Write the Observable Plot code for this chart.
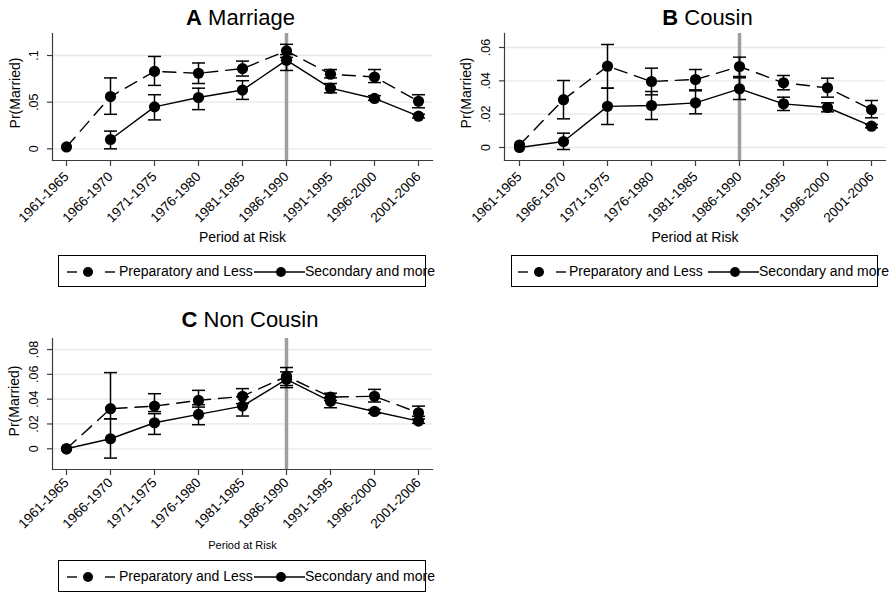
<!DOCTYPE html>
<html><head><meta charset="utf-8">
<script src="https://cdn.jsdelivr.net/npm/d3@7"></script>
<script src="https://cdn.jsdelivr.net/npm/@observablehq/plot@0.6"></script>
<style>
body{margin:0;background:#fff;font-family:"Liberation Sans",Arial,Helvetica,sans-serif;}
#root{position:relative;width:893px;height:594px;overflow:hidden;background:#fff;}
.panel{position:absolute;}
.panel svg{overflow:visible;font-family:"Liberation Sans",Arial,Helvetica,sans-serif;}
.title{position:absolute;font-size:22px;line-height:22px;white-space:nowrap;transform:translateX(-50%);color:#000}
.title b{font-weight:bold}
.legend{position:absolute;border:1px solid #000;box-sizing:border-box;height:32px;background:#fff}
.legend .t{position:absolute;top:0;line-height:30px;font-size:14px;white-space:nowrap;color:#000}
.legend svg{position:absolute;top:0;overflow:visible}
</style></head>
<body><div id="root"></div>
<script>
// ---------- data ----------
const periods = ["1961-1965","1966-1970","1971-1975","1976-1980","1981-1985","1986-1990","1991-1995","1996-2000","2001-2006"];
const seriesNames = ["Preparatory and Less", "Secondary and more"];
const cutoffPeriod = "1986-1990";

// A Marriage
const prepA    = [0.002, 0.056, 0.083, 0.081, 0.086, 0.105, 0.080, 0.077, 0.051];
const prepALo  = [null, 0.037, 0.068, 0.070, 0.078, 0.098, 0.076, 0.071, 0.044];
const prepAHi  = [null, 0.076, 0.099, 0.092, 0.094, 0.112, 0.085, 0.085, 0.058];
const secA     = [null, 0.010, 0.045, 0.055, 0.063, 0.095, 0.065, 0.054, 0.035];
const secALo   = [null, 0.000, 0.031, 0.042, 0.053, 0.084, 0.060, 0.052, 0.033];
const secAHi   = [null, 0.019, 0.058, 0.065, 0.073, 0.101, 0.070, 0.057, 0.037];

// B Cousin
const prepB    = [0.0015, 0.0287, 0.0488, 0.0396, 0.0408, 0.0486, 0.0388, 0.0358, 0.0228];
const prepBLo  = [null, 0.0172, 0.0356, 0.0316, 0.0346, 0.0426, 0.0346, 0.0302, 0.0178];
const prepBHi  = [null, 0.0402, 0.0618, 0.0476, 0.0468, 0.0542, 0.0432, 0.0416, 0.0282];
const secB     = [0.0, 0.0036, 0.0247, 0.0252, 0.0268, 0.0352, 0.0262, 0.0240, 0.0128];
const secBLo   = [null, -0.0012, 0.0138, 0.0168, 0.0202, 0.0288, 0.0222, 0.0214, 0.0118];
const secBHi   = [null, 0.0086, 0.0356, 0.0336, 0.0340, 0.0418, 0.0302, 0.0268, 0.0138];

// C Non Cousin
const prepC    = [0.0, 0.0323, 0.0344, 0.0390, 0.0423, 0.0584, 0.0417, 0.0423, 0.0290];
const prepCLo  = [null, 0.0242, 0.0300, 0.0336, 0.0364, 0.0510, 0.0390, 0.0377, 0.0262];
const prepCHi  = [null, 0.0614, 0.0444, 0.0471, 0.0485, 0.0655, 0.0448, 0.0479, 0.0344];
const secC     = [0.0, 0.0081, 0.0210, 0.0277, 0.0344, 0.0560, 0.0382, 0.0301, 0.0223];
const secCLo   = [null, -0.0075, 0.0116, 0.0194, 0.0264, 0.0493, 0.0331, 0.0285, 0.0205];
const secCHi   = [null, 0.0242, 0.0283, 0.0355, 0.0420, 0.0620, 0.0415, 0.0317, 0.0240];

const yTicksA = [0, 0.05, 0.1];
const yTicksB = [0, 0.02, 0.04, 0.06];
const yTicksC = [0, 0.02, 0.04, 0.06, 0.08];

// ---------- layout ----------
const panels = [
  {letter:"A", name:"Marriage", left:0, top:0, width:440, height:250, mL:52, mR:8, mT:33, mB:90,
   xRange:[63,421], yDomain:[-0.0125,0.1236], yTicks:yTicksA, tickPad:8,
   prep:prepA, prepLo:prepALo, prepHi:prepAHi, sec:secA, secLo:secALo, secHi:secAHi,
   ylabDx:-37, ylabDy:-4, xlabSize:14, xlabDy:81, titleX:240.5, titleTop:6.5,
   legend:{left:58, top:255, width:368, dash:9, t1:61, solid:196, t2:247}},
  {letter:"B", name:"Cousin", left:440, top:0, width:453, height:250, mL:64, mR:8, mT:33, mB:90,
   xRange:[75.7,433.3], yDomain:[-0.0078,0.0684], yTicks:yTicksB, tickPad:8,
   prep:prepB, prepLo:prepBLo, prepHi:prepBHi, sec:secB, secLo:secBLo, secHi:secBHi,
   ylabDx:-38, ylabDy:-4, xlabSize:14, xlabDy:81, titleX:707.5, titleTop:6.5,
   legend:{left:511, top:255, width:367, dash:7, t1:58, solid:197, t2:248}},
  {letter:"C", name:"Non Cousin", left:0, top:305, width:440, height:250, mL:52, mR:8, mT:33, mB:86,
   xRange:[63,421], yDomain:[-0.0167,0.0889], yTicks:yTicksC, tickPad:5,
   prep:prepC, prepLo:prepCLo, prepHi:prepCHi, sec:secC, secLo:secCLo, secHi:secCHi,
   ylabDx:-38, ylabDy:-3, xlabSize:11, xlabDy:79, titleX:250, titleTop:308.8,
   legend:{left:58, top:560, width:368, dash:9, t1:61, solid:196, t2:247}}
];

const fmt = d => d === 0 ? "0" : String(d).replace(/^0/, "");
const capSymbol = { draw(ctx, size) { const w = Math.sqrt(size / Math.PI); ctx.moveTo(-w, 0); ctx.lineTo(w, 0); } };
const root = document.getElementById("root");
const AX = "#3c3c3c";

for (const p of panels) {
  const rows = [];
  periods.forEach((per, i) => {
    rows.push({period: per, series: seriesNames[0], value: p.prep[i], lo: p.prepLo[i], hi: p.prepHi[i]});
    rows.push({period: per, series: seriesNames[1], value: p.sec[i], lo: p.secLo[i], hi: p.secHi[i]});
  });
  const prepRows = rows.filter(r => r.series === seriesNames[0]);
  const secRows = rows.filter(r => r.series === seriesNames[1]);
  const withCI = rows.filter(r => r.lo != null && r.hi != null);
  const withVal = rows.filter(r => r.value != null);

  const chart = Plot.plot({
    width: p.width, height: p.height,
    marginLeft: p.mL, marginRight: p.mR, marginTop: p.mT, marginBottom: p.mB,
    style: {fontFamily: '"Liberation Sans", Arial, Helvetica, sans-serif', background: "transparent"},
    x: {type: "point", domain: periods, range: p.xRange, padding: 0},
    y: {domain: p.yDomain},
    marks: [
      Plot.gridY(p.yTicks, {stroke: "#e8e8e8", strokeOpacity: 1, strokeWidth: 1.3}),
      Plot.ruleX([cutoffPeriod], {stroke: "#9e9e9e", strokeWidth: 3.5}),
      Plot.frame({anchor: "left", stroke: AX, strokeWidth: 1.2}),
      Plot.frame({anchor: "bottom", stroke: AX, strokeWidth: 1.2}),
      Plot.axisY(p.yTicks, {tickSize: 5, text: null, stroke: AX, strokeWidth: 1.2}),
      Plot.text(p.yTicks, {y: d => d, text: fmt, frameAnchor: "left", dx: -15, rotate: -90,
        textAnchor: "middle", lineAnchor: "bottom", fontSize: 12.5, fill: "#000"}),
      Plot.axisX({tickSize: 6, tickRotate: -45, fontSize: 13.5, stroke: AX, strokeWidth: 1.2, fill: "#000", tickPadding: p.tickPad, label: null}),
      Plot.text(["Pr(Married)"], {frameAnchor: "left", dx: p.ylabDx, dy: p.ylabDy, rotate: -90,
        textAnchor: "middle", lineAnchor: "middle", fontSize: 14, fill: "#000"}),
      Plot.text(["Period at Risk"], {frameAnchor: "bottom", dy: p.xlabDy, textAnchor: "middle",
        lineAnchor: "bottom", fontSize: p.xlabSize, fill: "#000"}),
      Plot.line(prepRows, {x: "period", y: "value", stroke: "#000", strokeWidth: 1.4, strokeDasharray: "13,8"}),
      Plot.line(secRows, {x: "period", y: "value", stroke: "#000", strokeWidth: 1.4}),
      Plot.ruleX(withCI, {x: "period", y1: "lo", y2: "hi", stroke: "#000", strokeWidth: 1.5}),
      Plot.dot(withCI, {x: "period", y: "lo", symbol: capSymbol, r: 6.5, stroke: "#000", fill: "none", strokeWidth: 1.5}),
      Plot.dot(withCI, {x: "period", y: "hi", symbol: capSymbol, r: 6.5, stroke: "#000", fill: "none", strokeWidth: 1.5}),
      Plot.dot(withVal, {x: "period", y: "value", r: 5.6, fill: "#000", stroke: "none"})
    ]
  });
  const holder = document.createElement("div");
  holder.className = "panel";
  holder.style.left = p.left + "px";
  holder.style.top = p.top + "px";
  holder.appendChild(chart);
  root.appendChild(holder);

  const t = document.createElement("div");
  t.className = "title";
  t.style.left = p.titleX + "px";
  t.style.top = p.titleTop + "px";
  t.innerHTML = `<b>${p.letter}</b> ${p.name}`;
  root.appendChild(t);

  const L = p.legend;
  const lg = document.createElement("div");
  lg.className = "legend";
  lg.style.left = L.left + "px";
  lg.style.top = L.top + "px";
  lg.style.width = L.width + "px";
  lg.innerHTML =
    `<svg style="left:${L.dash - 1}px" width="48" height="30"><line x1="0" x2="10" y1="16" y2="16" stroke="#000" stroke-width="1.4"/><line x1="38" x2="48" y1="16" y2="16" stroke="#000" stroke-width="1.4"/><circle cx="21" cy="16" r="5" fill="#000"/></svg>` +
    `<div class="t" style="left:${L.t1 - 1}px">${seriesNames[0]}</div>` +
    `<svg style="left:${L.solid - 1}px" width="51" height="30"><line x1="0" x2="51" y1="16" y2="16" stroke="#000" stroke-width="1.4"/><circle cx="27" cy="16" r="5" fill="#000"/></svg>` +
    `<div class="t" style="left:${L.t2 - 1}px">${seriesNames[1]}</div>`;
  root.appendChild(lg);
}
</script>
</body></html>
